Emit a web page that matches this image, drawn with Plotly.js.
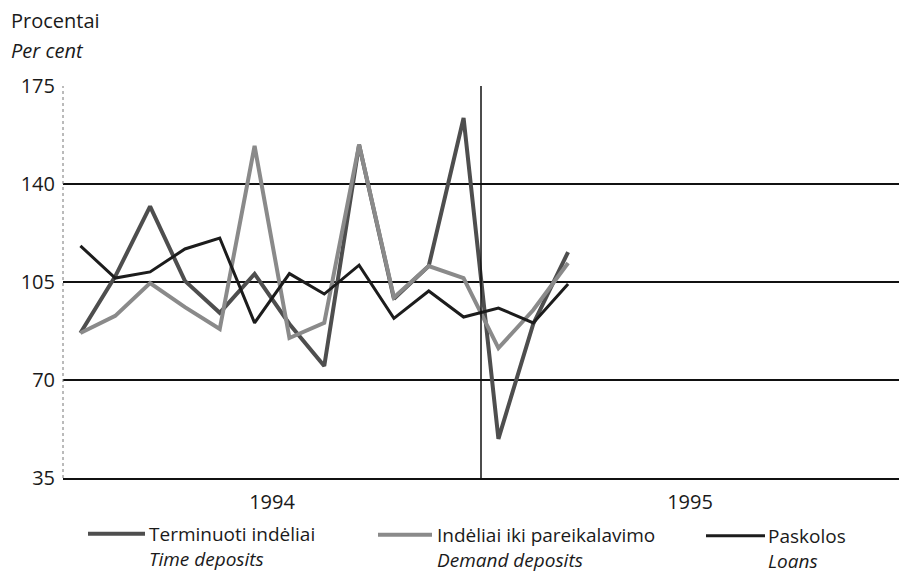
<!DOCTYPE html>
<html>
<head>
<meta charset="utf-8">
<script src="https://cdn.plot.ly/plotly-3.0.1.min.js"></script>
<style>html,body{margin:0;padding:0;background:#fff;}#chart{width:899px;height:573px;}</style>
</head>
<body>
<div id="chart"></div>
<script>
// Month index: 0 = Jan 1994 ... 14 = Mar 1995
var months = [0, 1, 2, 3, 4, 5, 6, 7, 8, 9, 10, 11, 12, 13, 14];
var timeDeposits   = [86.8, 107, 132, 105.4, 94, 107.9, 90, 75, 154, 99, 110.7, 163.6, 49, 90, 115.7];
var demandDeposits = [86.8, 92.9, 104.6, 96, 88.2, 153.6, 85, 90.4, 154, 99.5, 110.7, 106.4, 81.4, 95, 111.8];
var loans          = [117.9, 106.4, 108.6, 116.8, 120.7, 90.4, 108, 100.7, 111, 92, 101.8, 92.5, 95.7, 90.4, 104.3];

var yTicks = [35, 70, 105, 140, 175];
var yearTickPos = [5.5, 17.5];
var yearLabels = ['1994', '1995'];
var seriesNamesLt = ['Terminuoti indėliai', 'Indėliai iki pareikalavimo', 'Paskolos'];
var seriesNamesEn = ['Time deposits', 'Demand deposits', 'Loans'];
var yTitleLt = 'Procentai';
var yTitleEn = 'Per cent';

var colors = ['#4e4e4e', '#8a8a8a', '#1c1c1c'];
var widths = [4, 4, 3];
var FONT = 'Open Sans, sans-serif';
var FS = 20;
var LFS = 19;

var L = 63, R = 0, T = 86, B = 95, W = 899, H = 573;
var plotW = W - L - R, plotH = H - T - B;
function px(x) { return (x - L) / plotW; }
function py(y) { return (H - B - y) / plotH; }

var traces = [timeDeposits, demandDeposits, loans].map(function (vals, i) {
  return {
    x: months, y: vals, type: 'scatter', mode: 'lines',
    line: {color: colors[i], width: widths[i]},
    name: seriesNamesLt[i], showlegend: false, hoverinfo: 'skip'
  };
});

var shapes = [
  {type: 'line', xref: 'paper', yref: 'paper', x0: 0, x1: 0, y0: 0, y1: 1,
   line: {color: '#777', width: 1, dash: 'dot'}},
  {type: 'line', xref: 'x', yref: 'y', x0: 11.5, x1: 11.5, y0: 35, y1: 175,
   line: {color: '#111', width: 1.5}}
];
var annotations = [
  {xref: 'paper', yref: 'paper', x: px(9), y: py(20), xanchor: 'left', yanchor: 'middle',
   text: yTitleLt, showarrow: false, font: {family: FONT, size: FS, color: '#1a1a1a'}},
  {xref: 'paper', yref: 'paper', x: px(9), y: py(50), xanchor: 'left', yanchor: 'middle',
   text: '<i>' + yTitleEn + '</i>', showarrow: false, font: {family: FONT, size: FS, color: '#1a1a1a'}}
];

// Custom legend layout (pixel positions); c = centre of the two-line text block
var legendPos = [
  {x0: 88, x1: 145, tx: 147, c: 546},
  {x0: 378, x1: 432, tx: 435, c: 547},
  {x0: 706, x1: 765, tx: 766, c: 548}
];
var lineGap = LFS * 1.3;
legendPos.forEach(function (p, i) {
  var ly = p.c - lineGap / 2;
  shapes.push({type: 'line', xref: 'paper', yref: 'paper', x0: px(p.x0), x1: px(p.x1),
    y0: py(ly), y1: py(ly), line: {color: colors[i], width: widths[i]}});
  annotations.push({xref: 'paper', yref: 'paper', x: px(p.tx), y: py(p.c), xanchor: 'left', yanchor: 'middle',
    align: 'left', text: seriesNamesLt[i] + '<br><i>' + seriesNamesEn[i] + '</i>', showarrow: false,
    font: {family: FONT, size: LFS, color: '#1a1a1a'}});
});

var layout = {
  width: W, height: H,
  margin: {l: L, r: R, t: T, b: B, pad: 0},
  paper_bgcolor: '#fff', plot_bgcolor: '#fff',
  showlegend: false,
  font: {family: FONT, size: FS, color: '#1a1a1a'},
  xaxis: {
    range: [-0.5, 23.5], tickmode: 'array', tickvals: yearTickPos, ticktext: yearLabels,
    showgrid: false, zeroline: false, showline: true, linecolor: '#111', linewidth: 2,
    ticks: '', ticklabelstandoff: 5, tickfont: {family: FONT, size: FS, color: '#1a1a1a'}
  },
  yaxis: {
    range: [35, 175], tickmode: 'array', tickvals: yTicks,
    showgrid: true, gridcolor: '#111', gridwidth: 2, zeroline: false, showline: false,
    ticks: '', ticklabelstandoff: 7, tickfont: {family: FONT, size: FS, color: '#1a1a1a'}
  },
  shapes: shapes,
  annotations: annotations
};

Plotly.newPlot('chart', traces, layout, {displayModeBar: false, staticPlot: true});
</script>
</body>
</html>
